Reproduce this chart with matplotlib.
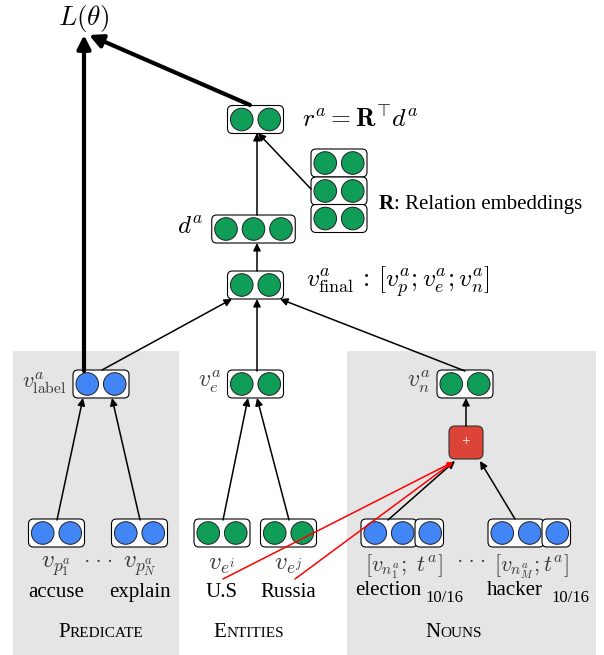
import matplotlib
matplotlib.use("Agg")
import matplotlib.pyplot as plt
from matplotlib.patches import Circle, FancyBboxPatch, Rectangle

plt.rcParams['font.family'] = ['Liberation Serif', 'DejaVu Serif']
plt.rcParams['mathtext.fontset'] = 'cm'

# labels
predicates = ["accuse", "explain"]
pred_vecs = [r"$v_{p_1^a}$", r"$v_{p_N^a}$"]
entities = ["U.S", "Russia"]
ent_vecs = [r"$v_{e^i}$", r"$v_{e^j}$"]
nouns = ["election", "hacker"]
noun_vecs = [r"$[v_{n_1^a};\ t^a]$", r"$[v_{n_M^a}; t^a]$"]
noun_times = ["10/16", "10/16"]
groups = ["Predicate", "Entities", "Nouns"]

GREEN = "#0f9d58"
BLUE = "#4285f4"
RED = "#db4437"
GRAY_TXT = "#3a3a3a"

fig = plt.figure(figsize=(6.04, 6.55), dpi=100)
ax = fig.add_axes([0, 0, 1, 1])
ax.set_xlim(0, 604)
ax.set_ylim(655, 0)
ax.axis('off')


def box(x0, y0, w, h):
    ax.add_patch(FancyBboxPatch((x0, y0), w, h, boxstyle="round,pad=0,rounding_size=5",
                                fc='white', ec='black', lw=0.8, zorder=2))


def vec(cx, cy, n, color, step=27.5):
    # rounded box with n circles, centred at (cx, cy)
    w = n * step + 1
    box(cx - w / 2, cy - 14, w, 28)
    for i in range(n):
        x = cx - w / 2 + 0.5 + step / 2 + i * step
        ax.add_patch(Circle((x, cy), 11.3, fc=color, ec='#222222', lw=0.7, zorder=3))


def vec3(x0, cy, color):
    # two circles + one extra circle in its own box
    step = 27.5
    box(x0, cy - 14, 2 * step + 1, 28)
    box(x0 + 2 * step - 1, cy - 14, step + 1, 28)
    for i in range(3):
        x = x0 + 0.5 + step / 2 + i * step
        ax.add_patch(Circle((x, cy), 11.3, fc=color, ec='#222222', lw=0.7, zorder=3))


def arrow(x0, y0, x1, y1, lw=1.1, ms=11, color='black', z=4):
    ax.annotate('', xy=(x1, y1), xytext=(x0, y0),
                arrowprops=dict(arrowstyle='-|>', lw=lw, color=color,
                                shrinkA=0, shrinkB=0, mutation_scale=ms),
                zorder=z)


def smallcaps(cx, y, word):
    t1 = ax.text(0, y, word[0].upper(), fontsize=15, va='baseline')
    t2 = ax.text(0, y, word[1:].upper(), fontsize=11, va='baseline')
    r = fig.canvas.get_renderer()
    w1 = t1.get_window_extent(r).width
    w2 = t2.get_window_extent(r).width
    left = cx - (w1 + w2) / 2
    t1.set_x(left)
    t2.set_x(left + w1)


# gray group panels
ax.add_patch(Rectangle((13, 351), 166, 310, fc='#e5e5e5', ec='none', zorder=0))
ax.add_patch(Rectangle((347, 351), 249, 310, fc='#e5e5e5', ec='none', zorder=0))

# top part
ax.text(84, 18, r"$L(\theta)$", fontsize=19.5, ha='center', va='center')
vec(255.5, 119.5, 2, GREEN)
ax.text(302, 119, r"$r^a = \mathbf{R}^{\!\top}\! d^a$", fontsize=18.5, ha='left', va='center')
for cy in [163, 191, 218.5]:
    vec(339, cy, 2, GREEN)
tR = ax.text(379, 204, "R", fontsize=15, fontweight='bold', ha='left', va='center')
ax.annotate(": Relation embeddings", xy=(1, 0.5), xycoords=tR, fontsize=15,
            ha='left', va='center')
vec(253.5, 229, 3, GREEN)
ax.text(204, 228, r"$d^a$", fontsize=18, ha='right', va='center')
vec(255.5, 285, 2, GREEN)
ax.text(306, 282, r"$v^a_{\mathrm{final}}\,:\,[v^a_p; v^a_e; v^a_n]$", fontsize=18.5,
        ha='left', va='center')

# arrows in the upper part
arrow(84, 371, 84, 35, lw=3, ms=20)
arrow(250, 105, 89, 35, lw=3, ms=20)
arrow(257, 215, 257, 133)
arrow(311, 189, 258, 133)
arrow(257, 271, 257, 243)
arrow(102, 370, 232, 299)
arrow(257, 371, 257, 299)
arrow(465, 371, 280, 299)

# second row
vec(101, 384, 2, BLUE)
ax.text(66, 383, r"$v^a_{\mathrm{label}}$", fontsize=16, ha='right', va='center', color=GRAY_TXT)
vec(255.5, 384, 2, GREEN)
ax.text(221, 382, r"$v^a_e$", fontsize=17, ha='right', va='center', color=GRAY_TXT)
vec(465, 384, 2, GREEN)
ax.text(430, 382, r"$v^a_n$", fontsize=17, ha='right', va='center', color=GRAY_TXT)

# plus node
ax.add_patch(FancyBboxPatch((449, 426), 34, 33, boxstyle="round,pad=0,rounding_size=6",
                            fc=RED, ec='#333333', lw=0.8, zorder=3))
ax.text(466, 442, "+", fontsize=11, color='white', ha='center', va='center', zorder=4)
arrow(466, 426, 466, 398)

# bottom vectors
px = [56.5, 139.5]
ex = [222, 288.5]
for x, w, v in zip(px, predicates, pred_vecs):
    vec(x, 533, 2, BLUE)
    ax.text(x, 566, v, fontsize=18, ha='center', va='center', color=GRAY_TXT)
    ax.text(x, 597, w, fontsize=15, ha='center', va='baseline')
ax.text(99, 567, "\u00b7 \u00b7 \u00b7", fontsize=14, ha='center', va='baseline', color=GRAY_TXT)
for x, w, v in zip(ex, entities, ent_vecs):
    vec(x, 533, 2, GREEN)
    ax.text(x, 566, v, fontsize=18, ha='center', va='center', color=GRAY_TXT)
    ax.text(x, 597, w, fontsize=15, ha='center', va='baseline')

nx = [361, 488]
ncx = [388, 515]
tx = [444, 570]
for x0, cx, t_x, t, w, v in zip(nx, ncx, tx, noun_times, nouns, noun_vecs):
    vec3(x0, 533, BLUE)
    ax.text(x0 + 43, 567, v, fontsize=16, ha='center', va='center', color=GRAY_TXT)
    ax.text(cx, 595, w, fontsize=15, ha='center', va='baseline')
    ax.text(t_x, 602, t, fontsize=12, ha='center', va='baseline')
ax.text(472, 567, "\u00b7 \u00b7 \u00b7", fontsize=14, ha='center', va='baseline', color=GRAY_TXT)

# arrows in the lower part
arrow(57, 520, 83, 398)
arrow(140, 520, 112, 398)
arrow(223, 520, 248, 398)
arrow(289, 520, 257, 398)
arrow(388, 520, 455, 461)
arrow(515, 519, 480, 461)
arrow(223, 579, 453, 462, lw=1.1, ms=7, color='red', z=5)
arrow(295, 579, 453, 462, lw=1.1, ms=7, color='red', z=5)

# group names
for cx, g in zip([101, 249, 454], groups):
    smallcaps(cx, 637, g)

fig.savefig("out.png", dpi=100)
